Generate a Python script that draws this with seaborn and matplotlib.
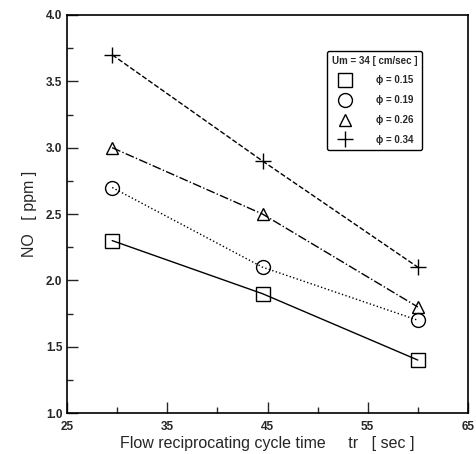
import numpy as np
import pandas as pd
import matplotlib
matplotlib.use("Agg")
import matplotlib.pyplot as plt
from matplotlib.lines import Line2D
from matplotlib.ticker import MultipleLocator, FixedLocator, FormatStrFormatter
import seaborn as sns

# Datos
tr = [29.5, 44.5, 60]
no_015 = [2.3, 1.9, 1.4]
no_019 = [2.7, 2.1, 1.7]
no_026 = [3.0, 2.5, 1.8]
no_034 = [3.7, 2.9, 2.1]
phi_labels = ["\u03d5 = 0.15", "\u03d5 = 0.19", "\u03d5 = 0.26", "\u03d5 = 0.34"]
x_major = [25, 35, 45, 55, 65]
x_minor = [30, 40, 50, 60]

series = [no_015, no_019, no_026, no_034]
markers = ["s", "o", "^", "+"]
styles = ["-", ":", "-.", "--"]
msizes = [10, 10, 8, 12]

sns.set_style("white")
plt.rcParams['font.family'] = ['Liberation Sans', 'DejaVu Sans']

fig = plt.figure(figsize=(4.76, 4.54), dpi=100)
ax = fig.add_axes([0.141, 0.090, 0.842, 0.877])

df = pd.concat([pd.DataFrame({'tr': tr, 'NO': v, 'phi': lab})
                for v, lab in zip(series, phi_labels)])

for lab, m, ls, ms in zip(phi_labels, markers, styles, msizes):
    sub = df[df.phi == lab]
    sns.lineplot(data=sub, x='tr', y='NO', ax=ax, color='black', linestyle=ls,
                 linewidth=1.0, marker=m, markersize=ms, markerfacecolor='none',
                 markeredgecolor='black', markeredgewidth=1.0, legend=False)

ax.set_xlim(25, 65)
ax.set_ylim(1.0, 4.0)
ax.xaxis.set_major_locator(FixedLocator(x_major))
ax.xaxis.set_minor_locator(FixedLocator(x_minor))
ax.yaxis.set_major_locator(MultipleLocator(0.5))
ax.yaxis.set_minor_locator(MultipleLocator(0.25))
ax.yaxis.set_major_formatter(FormatStrFormatter('%.1f'))
ax.tick_params(which='both', direction='in', top=False, right=False,
               bottom=True, left=True, labelsize=8.5, width=1.0)
ax.tick_params(which='major', length=8)
ax.tick_params(which='minor', length=4)
ax.tick_params(axis='x', pad=6)
for lbl in ax.get_xticklabels() + ax.get_yticklabels():
    lbl.set_fontweight('bold')
for sp in ax.spines.values():
    sp.set_color('black')
    sp.set_linewidth(1.2)

ax.set_xlabel("Flow reciprocating cycle time     tr   [ sec ]", fontsize=11.5, labelpad=2)
ax.set_ylabel("NO   [ ppm ]", fontsize=11.5, labelpad=6)

handles = [Line2D([], [], color='black', marker=m, linestyle='none', markersize=ms,
                  markerfacecolor='none', markeredgewidth=1.0)
           for m, ms in zip(markers, msizes)]
leg = ax.legend(handles, phi_labels, title="Um = 34 [ cm/sec ]", loc='upper left',
                bbox_to_anchor=(0.636, 0.922), fontsize=7, title_fontsize=7,
                frameon=True, fancybox=True, edgecolor='black', framealpha=1,
                handletextpad=2.2, labelspacing=1.0, borderpad=0.5)
leg.get_frame().set_linewidth(1.0)
leg.get_title().set_fontweight('bold')
for t in leg.get_texts():
    t.set_fontweight('bold')

fig.savefig("out.png", dpi=100)
